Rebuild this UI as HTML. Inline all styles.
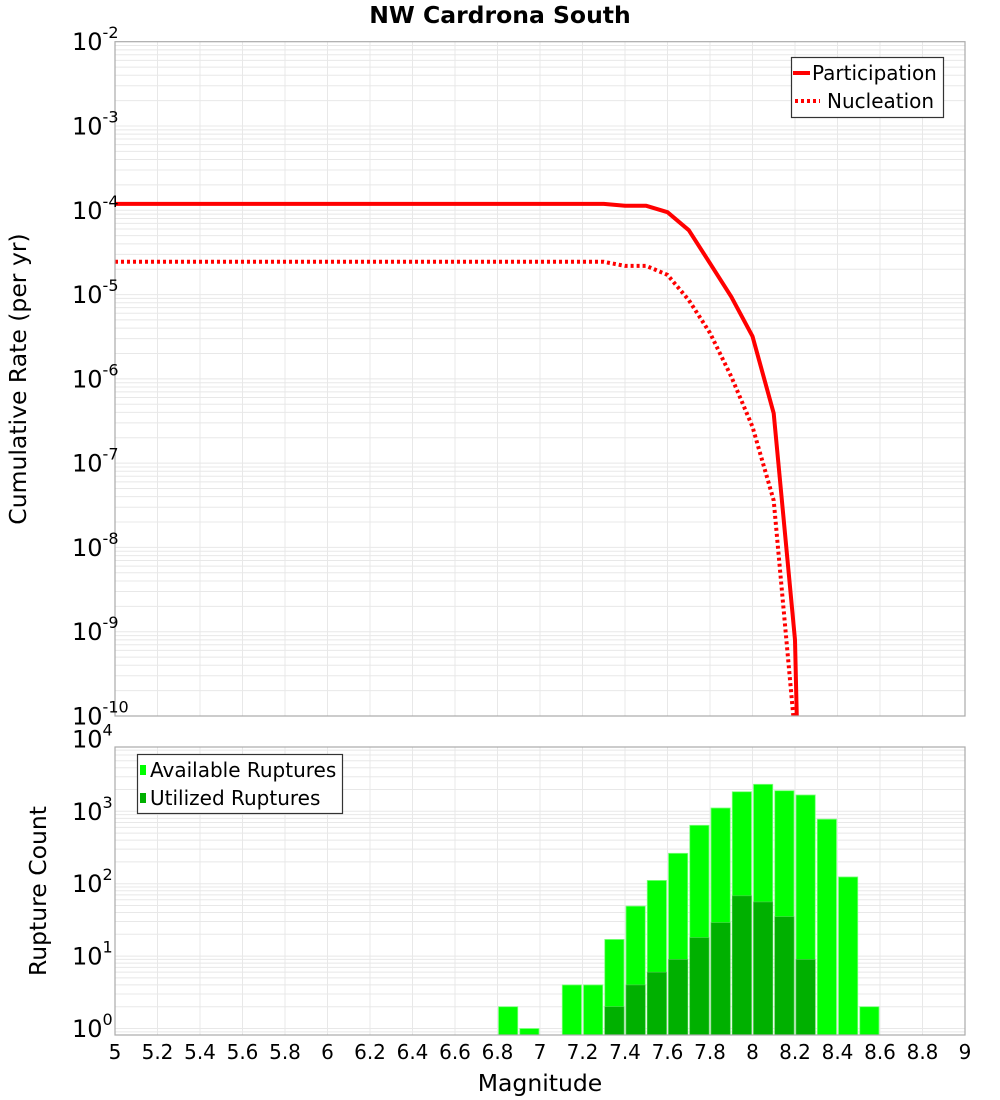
<!DOCTYPE html>
<html><head><meta charset="utf-8"><style>
html,body{margin:0;background:#fff;overflow:hidden;width:1000px;height:1100px;}
svg{display:block;font-family:"DejaVu Sans","Liberation Sans",sans-serif;}
</style></head><body>
<svg id="chart" width="1000" height="1100" viewBox="0 0 1000 1100" xmlns="http://www.w3.org/2000/svg" style="position:absolute;left:0;top:0">
<rect width="1000" height="1100" fill="#fff"/>
<g id="grid"></g>
<g id="marks"></g>
<g id="axes"></g>
<text x="500" y="23" font-size="23.5" font-weight="bold" text-anchor="middle">NW Cardrona South</text>
<text x="540" y="1091" font-size="23.5" text-anchor="middle">Magnitude</text>
<text transform="translate(26,379) rotate(-90)" font-size="23.5" text-anchor="middle">Cumulative Rate (per yr)</text>
<text transform="translate(46,891) rotate(-90)" font-size="23.5" text-anchor="middle">Rupture Count</text>
<g>
<rect x="791.5" y="57.5" width="152" height="60" fill="#fff" stroke="#333" stroke-width="1.2"/>
<line x1="793" x2="810" y1="73" y2="73" stroke="#f00" stroke-width="4"/>
<text x="812" y="80" font-size="20">Participation</text>
<line x1="795" x2="820" y1="101" y2="101" stroke="#f00" stroke-width="4" stroke-dasharray="3,3"/>
<text x="827" y="108" font-size="20">Nucleation</text>
</g>
<g>
<rect x="137.5" y="754.5" width="205" height="59" fill="#fff" stroke="#333" stroke-width="1.2"/>
<rect x="140" y="765" width="6" height="10" fill="#00ff00"/>
<text x="150" y="777" font-size="20">Available Ruptures</text>
<rect x="140" y="793" width="6" height="10" fill="#00b000"/>
<text x="150" y="805" font-size="20">Utilized Ruptures</text>
</g>
</svg>
<script>
const mags = [5.0,5.1,5.2,5.3,5.4,5.5,5.6,5.7,5.8,5.9,6.0,6.1,6.2,6.3,6.4,6.5,6.6,6.7,6.8,6.9,7.0,7.1,7.2,7.3,7.4,7.5,7.6,7.7,7.8,7.9,8.0,8.1,8.2,8.3];
const participation = [1.19e-4,1.19e-4,1.19e-4,1.19e-4,1.19e-4,1.19e-4,1.19e-4,1.19e-4,1.19e-4,1.19e-4,1.19e-4,1.19e-4,1.19e-4,1.19e-4,1.19e-4,1.19e-4,1.19e-4,1.19e-4,1.19e-4,1.19e-4,1.19e-4,1.19e-4,1.19e-4,1.19e-4,1.13e-4,1.13e-4,9.5e-5,5.8e-5,2.35e-5,9.4e-6,3.2e-6,3.9e-7,8e-10,1e-20];
const nucleation = [2.45e-5,2.45e-5,2.45e-5,2.45e-5,2.45e-5,2.45e-5,2.45e-5,2.45e-5,2.45e-5,2.45e-5,2.45e-5,2.45e-5,2.45e-5,2.45e-5,2.45e-5,2.45e-5,2.45e-5,2.45e-5,2.45e-5,2.45e-5,2.45e-5,2.45e-5,2.45e-5,2.45e-5,2.19e-5,2.19e-5,1.71e-5,8.6e-6,3.5e-6,1.06e-6,2.7e-7,3.6e-8,6e-11,1e-20];
const binStarts = [6.8,6.9,7.1,7.2,7.3,7.4,7.5,7.6,7.7,7.8,7.9,8.0,8.1,8.2,8.3,8.4,8.5];
const available = [2,1,4,4,17,49,111,263,641,1111,1863,2360,1925,1680,778,124,2];
const utilized = [0,0,0,0,2,4,6,9,18,29,68,56,35,9,0,0,0];
const xTicks = ["5","5.2","5.4","5.6","5.8","6","6.2","6.4","6.6","6.8","7","7.2","7.4","7.6","7.8","8","8.2","8.4","8.6","8.8","9"];
const topExps = [-2,-3,-4,-5,-6,-7,-8,-9,-10];
const botExps = [0,1,2,3,4];

const NS="http://www.w3.org/2000/svg";
const L=115,R=965;
const T1=41.7,B1=716, T2=747,B2=1035;
const x = m => L+(m-5)*(R-L)/4;
const yTop = v => T1+(-2-Math.log10(v))*(B1-T1)/8;
const yBot = v => 1028.5-Math.log10(v)*72.4;
function mk(tag,attrs,parent){const e=document.createElementNS(NS,tag);for(const k in attrs)e.setAttribute(k,attrs[k]);parent.appendChild(e);return e;}
const grid=document.getElementById('grid'),marks=document.getElementById('marks'),axes=document.getElementById('axes');

const defs=mk('defs',{},document.getElementById('chart'));
const c1=mk('clipPath',{id:'c1'},defs);mk('rect',{x:L,y:T1,width:R-L,height:B1-T1},c1);
const c2=mk('clipPath',{id:'c2'},defs);mk('rect',{x:L,y:T2,width:R-L,height:B2-T2},c2);

for(let i=0;i<xTicks.length;i++){const xx=x(5+i*0.2);
 [[T1,B1],[T2,B2]].forEach(p=>{const l=mk('line',{x1:xx,x2:xx,y1:p[0],y2:p[1],stroke:'#e8e8e8','stroke-width':1},grid);
 
 });}
for(let e=-10;e<-2;e++){for(let k=1;k<10;k++){const yy=yTop(k*Math.pow(10,e));
 const l=mk('line',{x1:L,x2:R,y1:yy,y2:yy,stroke:'#e8e8e8','stroke-width':1},grid);
 
 }}
for(let e=-1;e<4;e++){for(let k=1;k<10;k++){const yy=yBot(k*Math.pow(10,e));if(yy<T2||yy>B2)continue;
 const l=mk('line',{x1:L,x2:R,y1:yy,y2:yy,stroke:'#e8e8e8','stroke-width':1},grid);
 
 }}

const gT=mk('g',{'clip-path':'url(#c1)'},marks);
function pts(arr){return arr.map((v,i)=>x(mags[i]).toFixed(1)+','+yTop(v).toFixed(1)).join(' ');}
const pl=mk('polyline',{points:pts(participation),fill:'none',stroke:'#ff0000','stroke-width':4,'stroke-linejoin':'round'},gT);


const nl=mk('polyline',{points:pts(nucleation),fill:'none',stroke:'#ff0000','stroke-width':4,'stroke-dasharray':'3,3'},gT);



const gB=mk('g',{'clip-path':'url(#c2)'},marks);
binStarts.forEach((m,i)=>{
 const x0=x(m)+1,w=x(m+0.1)-x(m)-2;
 const ya=yBot(available[i]);
 const r=mk('rect',{x:x0,y:ya,width:w,height:B2-ya,fill:'#00ff00',stroke:'#7fff7f','stroke-width':0.8},gB);
 
 
 if(utilized[i]>0){const yu=yBot(utilized[i]);
  const u=mk('rect',{x:x0,y:yu,width:w,height:B2-yu,fill:'#00b000',stroke:'#55cc55','stroke-width':0.6},gB);
  
  }
});

[[T1,B1],[T2,B2]].forEach(p=>{const r=mk('rect',{x:L,y:p[0],width:R-L,height:p[1]-p[0],fill:'none',stroke:'#aaaaaa','stroke-width':1.2},axes);
 
 });

function ylab(yy,exp){const t=mk('text',{x:72,y:yy+8.5,'font-size':24,fill:'#000'},axes);
 
 
 t.textContent='10';
 const s=mk('tspan',{dy:-12,'font-size':16},t);s.textContent=String(exp);}
topExps.forEach(e=>ylab(yTop(Math.pow(10,e)),e));
botExps.forEach(e=>ylab(yBot(Math.pow(10,e)),e));
xTicks.forEach((s,i)=>{const t=mk('text',{x:x(5+i*0.2),y:1059,'font-size':20,'text-anchor':'middle',fill:'#000'},axes);
 
 
 t.textContent=s;});
</script>
</body></html>
